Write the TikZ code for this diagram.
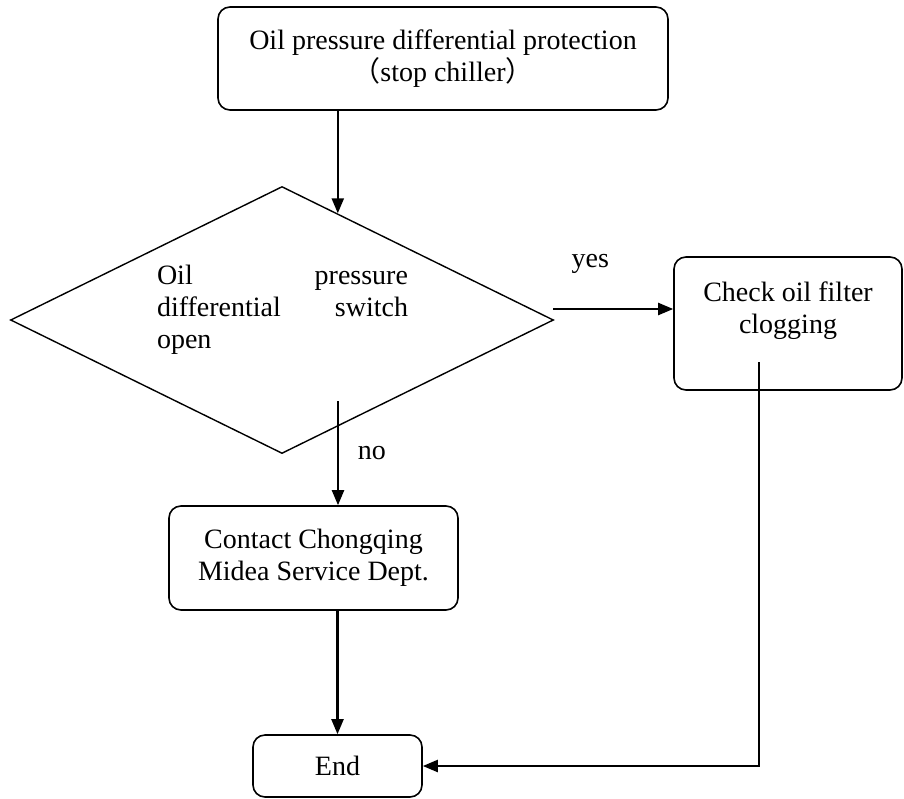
\documentclass[tikz,border=0pt]{standalone}
\usepackage{fontspec}
\setmainfont{Liberation Serif}
\newfontfamily\cjk{Noto Sans CJK SC}
\usetikzlibrary{shapes.geometric,arrows.meta,calc,positioning}

\begin{document}
\begin{tikzpicture}[x=0.5pt, y=-0.5pt,
  font=\fontsize{14}{16}\selectfont,
  box/.style={draw, line width=0.8pt, rounded corners=6pt, align=center, inner sep=0pt},
  decision/.style={draw, diamond, line width=0.7pt, inner sep=0pt, aspect=2.03,
    minimum width=271.5pt, minimum height=133.5pt},
  flow/.style={line width=1.1pt, -{Triangle[length=7.5pt,width=6pt]}}]
  \useasboundingbox (0,0) rectangle (904,798);
  % boxes
  \node[box, minimum width=225pt, minimum height=51.5pt] (prot) at (443,58.5)
    {Oil pressure differential protection\\{\cjk （}stop chiller{\cjk ）}};
  \node[decision] (dec) at (282,320) {};
  \node[text width=125.5pt, align=justify, inner sep=0pt] (dectxt) at (282.5,310)
    {Oil\hfill pressure\\differential\hfill switch\\open};
  \node[box, minimum width=114pt, minimum height=66.5pt] (filt) at (788,323.5)
    {Check oil filter\\clogging\\\mbox{}};
  \node[box, minimum width=144.5pt, minimum height=52pt] (cont) at (313.5,558)
    {Contact Chongqing\\Midea Service Dept.};
  \node[box, minimum width=84.5pt, minimum height=31pt] (fin) at (337.5,766) {End};
  % free ends of the connectors
  \coordinate (decin) at ($(dec.north)!0.205!(dec.east)$);
  \coordinate (nostart) at (338,401);
  \coordinate (yesstart) at (553,309);
  \coordinate (filtout) at (759,362);
  % connectors
  \draw[flow] (prot.south -| decin) -- (decin);
  \draw[flow] (nostart) -- (nostart |- cont.north) node[midway, right=6pt] {no};
  \draw[flow] (yesstart) -- (yesstart -| filt.west) node[pos=0.31, above=14pt] {yes};
  \draw[flow] (cont.south -| fin.north) -- (fin.north);
  \draw[flow] (filtout) |- (fin.east);
\end{tikzpicture}
\end{document}
